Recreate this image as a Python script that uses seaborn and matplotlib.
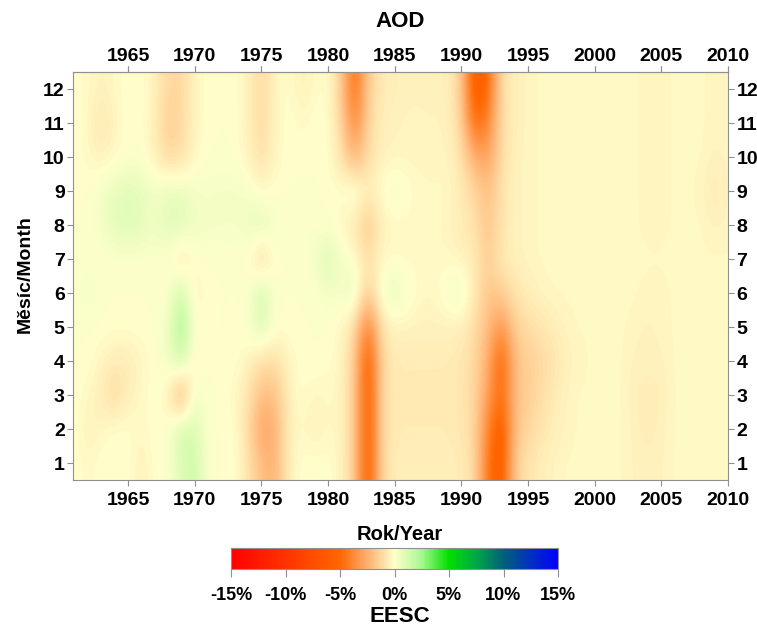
import numpy as np
import matplotlib
matplotlib.use("Agg")
import matplotlib.pyplot as plt
import seaborn as sns

# ---------------- data ----------------
years = list(range(1961, 2011))
months = list(range(1, 13))
year_ticks = [1965, 1970, 1975, 1980, 1985, 1990, 1995, 2000, 2005, 2010]
cbar_ticks = [-15, -10, -5, 0, 5, 10, 15]
cbar_labels = ["-15%", "-10%", "-5%", "0%", "5%", "10%", "15%"]

# EESC change (%) per month, columns = 1961..2010
m01 = [0, -0.2, 0, 0, 0, -0.5, 0, 0, 1.0, 1.5,
       0, 0, 0, -0.8, -2.0, -2.5, -0.5, 0, 0, 0,
       -0.3, -1.5, -6.0, -1.2, -0.5, -0.5, -0.5, -0.5, -0.5, -0.6,
       -1.0, -4.5, -6.0, -1.5, -0.8, -0.5, -0.3, -0.2, -0.2, -0.2,
       -0.2, -0.2, -0.4, -0.4, -0.4, -0.2, -0.2, -0.2, -0.2, -0.2]
m02 = [0, -0.5, -0.2, 0, 0, -0.2, 0, 0, 1.5, 1.0,
       0, 0, 0, -1.0, -3.0, -2.5, -0.5, -0.2, -0.5, -0.2,
       -0.3, -1.5, -6.0, -1.2, -0.6, -0.6, -0.6, -0.6, -0.6, -0.7,
       -1.2, -4.0, -6.0, -2.0, -1.2, -0.8, -0.5, -0.3, -0.2, -0.2,
       -0.2, -0.2, -0.4, -0.6, -0.4, -0.2, -0.2, -0.2, -0.2, -0.2]
m03 = [0, -0.2, -0.6, -1.2, -0.5, -0.2, 0, -0.3, -3.0, 0.5,
       0, 0, -0.2, -0.8, -2.0, -2.0, -0.5, 0, -0.3, -0.2,
       -0.3, -1.5, -6.0, -1.2, -0.6, -0.6, -0.6, -0.6, -0.6, -0.7,
       -1.2, -3.0, -5.0, -2.0, -1.5, -1.0, -0.6, -0.3, -0.2, -0.2,
       -0.2, -0.2, -0.5, -0.6, -0.5, -0.2, -0.2, -0.2, -0.2, -0.2]
m04 = [0, 0, -0.3, -0.6, -0.6, -0.3, 0, 0.3, 1.5, -0.5,
       0, 0, 0, -0.3, -1.0, -1.0, -0.3, 0, 0, 0,
       -0.3, -1.5, -6.0, -1.2, -0.6, -0.6, -0.6, -0.6, -0.6, -0.7,
       -1.2, -2.5, -5.5, -2.0, -1.5, -1.2, -0.8, -0.4, -0.3, -0.2,
       -0.2, -0.2, -0.4, -0.4, -0.4, -0.2, -0.2, -0.2, -0.2, -0.2]
m05 = [0, 0, 0, 0, 0, 0, 0, 0.3, 2.5, 0,
       0, 0, 0, 0, 1.2, 0, 0, 0, 0, 0,
       -0.2, -1.0, -4.5, -0.8, -0.4, -0.4, -0.4, -0.4, -0.4, -0.5,
       -1.0, -2.0, -3.5, -1.5, -1.0, -0.8, -0.5, -0.3, -0.2, -0.2,
       -0.2, -0.2, -0.3, -0.4, -0.3, -0.2, -0.2, -0.2, -0.2, -0.2]
m06 = [0, 0.5, 0, 0, 0, 0, 0, 0, 1.5, -0.5,
       0, 0, 0, 0, 1.5, 0, 0, 0, 0, 0.3,
       0.2, 0.8, -1.5, 0.3, 0.8, 0.2, -0.2, -0.2, 0.2, 0.6,
       -0.6, -1.8, -1.5, -0.8, -0.5, -0.3, -0.2, -0.2, -0.2, -0.2,
       -0.2, -0.2, -0.2, -0.3, -0.3, -0.2, -0.2, -0.2, -0.2, -0.2]
m07 = [0, 0, 0, 0, 0, 0, 0, 0, -1.0, 0,
       0, 0, 0, 0, -1.5, 0, 0, 0, 0.3, 1.2,
       0.3, 0, -1.0, -0.2, -0.2, -0.2, -0.2, -0.2, -0.2, -0.4,
       -0.6, -1.5, -0.6, -0.4, -0.3, -0.2, -0.2, -0.2, -0.2, -0.2,
       -0.2, -0.2, -0.2, -0.2, -0.2, -0.2, -0.2, -0.2, -0.2, -0.2]
m08 = [0, 0, 0.3, 0.8, 1.0, 0.8, 0.4, 0.9, 0.9, 0.4,
       0.3, 0.3, 0.2, 0.5, 1.0, 0.2, 0, 0.2, 0, 0,
       -0.3, -0.8, -1.8, -0.5, -0.2, -0.2, -0.2, -0.2, -0.3, -0.6,
       -0.8, -2.0, -0.8, -0.4, -0.3, -0.2, -0.2, -0.2, -0.2, -0.2,
       -0.2, -0.2, -0.2, -0.3, -0.3, -0.2, -0.2, -0.2, -0.4, -0.3]
m09 = [0, 0, 0.3, 0.7, 0.9, 0.7, 0.3, 0.7, 0.7, 0.3,
       0.2, 0.3, 0.3, 0.2, -0.2, 0, 0, 0, 0, 0,
       0, 0.6, -0.5, 0, 0.3, 0, -0.2, -0.2, -0.2, -0.6,
       -1.2, -2.0, -0.8, -0.4, -0.3, -0.2, -0.2, -0.2, -0.2, -0.2,
       -0.2, -0.2, -0.2, -0.3, -0.3, -0.2, -0.2, -0.3, -0.7, -0.3]
m10 = [0, -0.2, -0.4, -0.2, 0, 0, -0.4, -1.2, -1.0, -0.2,
       0, 0, 0, -0.3, -1.0, -0.3, 0, 0, 0, 0,
       -0.8, -2.5, -1.0, -0.4, -0.3, -0.3, -0.3, -0.3, -0.3, -0.8,
       -2.5, -3.0, -1.0, -0.4, -0.3, -0.2, -0.2, -0.2, -0.2, -0.2,
       -0.2, -0.2, -0.2, -0.3, -0.3, -0.2, -0.2, -0.2, -0.4, -0.3]
m11 = [0, -0.2, -0.9, -0.3, 0, 0, -0.5, -1.5, -1.2, -0.3,
       0, 0, 0, -0.4, -1.2, -0.3, 0, -0.2, 0, 0,
       -1.2, -4.0, -1.2, -0.5, -0.4, -0.3, -0.3, -0.3, -0.4, -1.2,
       -5.0, -4.0, -1.0, -0.5, -0.3, -0.2, -0.2, -0.2, -0.2, -0.2,
       -0.2, -0.2, -0.2, -0.3, -0.3, -0.2, -0.2, -0.2, -0.3, -0.3]
m12 = [0, -0.2, -0.4, -0.2, 0, 0, -0.4, -1.2, -1.2, -0.3,
       0, 0, 0, -0.4, -1.2, -0.3, 0, -0.5, -0.2, 0,
       -1.5, -5.0, -1.5, -0.6, -0.5, -0.4, -0.4, -0.5, -0.4, -1.5,
       -6.0, -5.0, -1.0, -0.5, -0.3, -0.2, -0.2, -0.2, -0.2, -0.2,
       -0.2, -0.2, -0.2, -0.3, -0.3, -0.2, -0.2, -0.2, -0.3, -0.3]

grid = np.array([m01, m02, m03, m04, m05, m06, m07, m08, m09, m10, m11, m12])

# ---------------- style ----------------
sns.set_theme(style="white")
plt.rcParams['font.family'] = ['Liberation Sans', 'DejaVu Sans']
plt.rcParams['font.weight'] = 'bold'
plt.rcParams['text.color'] = 'black'

cmap = sns.blend_palette(
    ["#FF0000", "#FF1A00", "#FF3300", "#FF4D00", "#FF6600", "#FFB070",
     "#FFFFCC", "#A8F890", "#00E000", "#00A848", "#00607A", "#0030C0", "#0000FF"],
    n_colors=256, as_cmap=True)

W, H = 757, 626
fig = plt.figure(figsize=(W / 100, H / 100), dpi=100)
ax = fig.add_axes([73 / W, 1 - 480 / H, 655 / W, 408 / H])

im = ax.imshow(grid, origin="lower", aspect="auto", cmap=cmap,
               vmin=-15, vmax=15, interpolation="bicubic",
               extent=[years[0] - 0.5, years[-1] + 0.5, months[0] - 0.5, months[-1] + 0.5])
ax.set_xlim(1960.87, 2010)
ax.set_ylim(0.5, 12.5)

ax.set_xticks(year_ticks)
ax.set_yticks(months)
ax.tick_params(axis="both", which="both", direction="out", length=4, width=0.8,
               color="#909090", labelcolor="black", labelsize=14,
               top=True, bottom=True, left=True, right=True,
               labeltop=False, labelbottom=True, labelleft=True, labelright=True)
ax.tick_params(axis="x", pad=4.5)
ax.tick_params(axis="y", pad=2)

sec = ax.secondary_xaxis("top")
sec.set_xticks(year_ticks)
sec.tick_params(direction="out", length=4, width=0.8, color="#909090",
                labelcolor="black", labelsize=14, pad=1)
sec.spines["top"].set_color("#909090")
sec.spines["top"].set_linewidth(0.8)

for lab in ax.get_xticklabels() + ax.get_yticklabels() + sec.get_xticklabels():
    lab.set_fontweight("bold")
for sp in ax.spines.values():
    sp.set_color("#909090")
    sp.set_linewidth(0.8)

fig.text(400 / W, 1 - 27 / H, "AOD", ha="center", va="baseline",
         fontsize=16, fontweight="bold", color="black")
fig.text(400 / W, 1 - 540 / H, "Rok/Year", ha="center", va="baseline",
         fontsize=14.5, fontweight="bold", color="black")
fig.text(25 / W, 1 - 274 / H, "Měsíc/Month", ha="center", va="center",
         rotation=90, fontsize=14, fontweight="bold", color="black")

cax = fig.add_axes([231 / W, 1 - 569 / H, 327 / W, 21 / H])
cb = fig.colorbar(im, cax=cax, orientation="horizontal", ticks=cbar_ticks)
cb.ax.set_xticklabels(cbar_labels)
cb.ax.tick_params(direction="out", length=6, width=0.8, color="#909090",
                  labelcolor="black", labelsize=13, pad=7)
for lab in cb.ax.get_xticklabels():
    lab.set_fontweight("bold")
cb.outline.set_edgecolor("#909090")
cb.outline.set_linewidth(0.8)
fig.text(400 / W, 1 - 622 / H, "EESC", ha="center", va="baseline",
         fontsize=16, fontweight="bold", color="black")

fig.savefig("out.png", dpi=100)
